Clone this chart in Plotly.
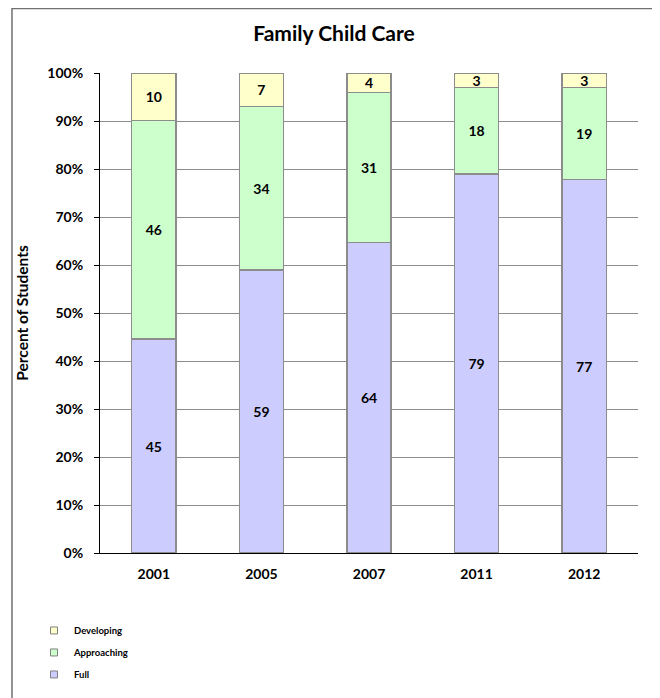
import plotly.graph_objects as go

years = ["2001", "2005", "2007", "2011", "2012"]
full = [45, 59, 64, 79, 77]
approaching = [46, 34, 31, 18, 19]
developing = [10, 7, 4, 3, 3]

series = [
    ("Full", full, "#CCCCFF"),
    ("Approaching", approaching, "#CCFFCC"),
    ("Developing", developing, "#FFFFCC"),
]
legend_rank = {"Developing": 1, "Approaching": 2, "Full": 3}

FONT = "Lato"

fig = go.Figure()
for name, vals, color in series:
    fig.add_trace(go.Bar(
        x=years, y=vals, name=name, showlegend=False,
        marker=dict(color=color, line=dict(color="#8C8C8C", width=1.5)),
        text=[str(v) for v in vals], textposition="inside",
        insidetextanchor="middle", textangle=0,
        textfont=dict(family=FONT, size=14, color="black", weight="bold"),
        width=0.41,
    ))
for name, vals, color in series:
    fig.add_trace(go.Scatter(
        x=[None], y=[None], mode="markers", name=name,
        legendgroup=name, legendrank=legend_rank[name],
        marker=dict(symbol="square", size=7, color=color,
                    line=dict(color="#808080", width=1)),
    ))

fig.update_layout(
    width=652, height=690,
    barmode="stack", barnorm="percent",
    plot_bgcolor="white", paper_bgcolor="white",
    margin=dict(l=92, r=22, t=65, b=145),
    font=dict(family=FONT, color="black"),
    title=dict(text="<b>Family Child Care</b>", x=0.5, xanchor="center",
               y=1 - 26 / 690, yanchor="middle",
               font=dict(family=FONT, size=21, color="black")),
    uniformtext=dict(minsize=14, mode="show"),
    showlegend=True,
    legend=dict(
        x=-0.1227, xanchor="left", yref="container", y=0.1189, yanchor="top",
        traceorder="grouped", tracegroupgap=3,
        font=dict(family=FONT, size=9.5, color="black", weight="bold"),
        itemwidth=30, bgcolor="rgba(0,0,0,0)",
    ),
    shapes=[dict(type="rect", xref="paper", yref="paper",
                 x0=-0.1636, x1=1.0353, y0=-0.33, y1=1.1344,
                 line=dict(color="#707070", width=1.5), layer="below")],
)

fig.update_yaxes(
    range=[0, 100], dtick=10, ticksuffix="%",
    showgrid=True, gridcolor="#8C8C8C", gridwidth=1,
    showline=True, linecolor="black", linewidth=1,
    ticks="outside", ticklen=5, tickcolor="black",
    ticklabelstandoff=8,
    tickfont=dict(family=FONT, size=14, color="black", weight="bold"),
    zeroline=False,
    title=dict(text="<b>Percent of Students</b>", standoff=14,
               font=dict(family=FONT, size=15.5, color="black")),
)
fig.update_xaxes(
    showline=True, linecolor="black", linewidth=1,
    ticks="", ticklabelstandoff=8,
    tickfont=dict(family=FONT, size=14, color="black", weight="bold"),
    showgrid=False,
)

fig.write_html("out.html")
